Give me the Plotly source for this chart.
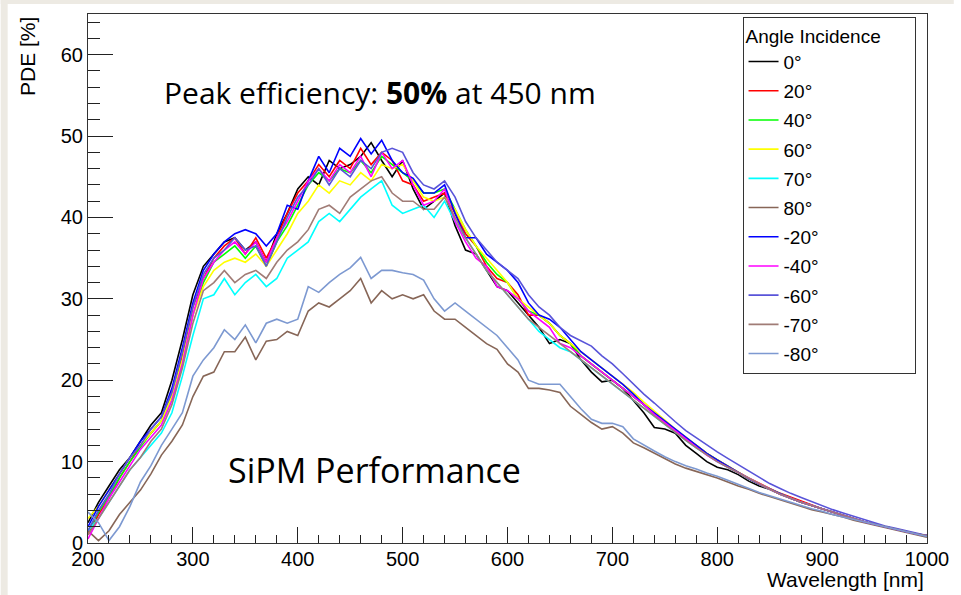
import plotly.graph_objects as go

wavelength = list(range(200, 1001, 10))

pde_0 = [2.5, 5.0, 7.0, 9.0, 10.5, 12.5, 14.5, 16.0, 20.0, 25.0,
         30.5, 34.0, 35.5, 37.0, 37.5, 36.0, 37.0, 34.5, 38.0, 40.5,
         43.5, 45.0, 44.0, 47.0, 46.0, 46.5, 47.5, 49.2, 47.0, 45.0,
         47.0, 43.5, 41.0, 42.0, 43.0, 39.0, 36.0, 35.5, 33.5, 31.5,
         31.0, 29.5, 28.0, 26.5, 24.5, 25.0, 24.5, 22.5, 21.0, 19.8,
         20.0, 19.0, 17.5, 16.0, 14.2, 14.0, 13.5, 12.0, 11.0, 10.0,
         9.3, 9.0, 8.4, 7.6, 7.0, 6.6, 6.0, 5.5, 5.0, 4.6,
         4.2, 3.8, 3.4, 3.0, 2.6, 2.3, 2.0, 1.7, 1.4, 1.1, 0.9]
pde_20 = [1.0, 3.5, 5.5, 8.0, 10.0, 12.0, 13.5, 15.0, 18.5, 23.0,
          29.0, 32.5, 35.0, 36.5, 37.5, 35.5, 37.5, 35.0, 37.5, 40.5,
          43.0, 44.5, 46.5, 45.0, 47.0, 46.0, 48.5, 46.5, 48.0, 47.0,
          44.5, 44.0, 42.0, 42.5, 43.0, 40.5, 38.0, 36.5, 34.0, 32.5,
          32.0, 30.5, 28.0, 28.0, 27.0, 25.5, 24.5, 23.0, 22.0, 21.0,
          20.0, 19.0, 18.0, 17.0, 15.8, 14.8, 13.8, 12.8, 12.0, 11.0,
          10.2, 9.4, 8.7, 8.0, 7.3, 6.7, 6.1, 5.6, 5.1, 4.6,
          4.2, 3.8, 3.4, 3.0, 2.6, 2.3, 2.0, 1.7, 1.4, 1.1, 0.9]
pde_40 = [1.5, 3.8, 5.8, 8.0, 10.0, 11.8, 13.5, 15.0, 18.0, 22.5,
          28.0, 32.0, 34.5, 35.5, 36.5, 35.0, 36.5, 34.0, 37.0, 39.0,
          41.5, 44.0, 45.5, 44.5, 46.0, 45.5, 47.0, 45.5, 47.5, 46.5,
          45.5, 44.5, 43.0, 43.0, 43.5, 41.0, 38.5, 36.5, 34.5, 33.0,
          32.0, 30.0, 28.5, 28.0, 27.0, 25.5, 24.5, 23.0, 22.0, 21.0,
          20.0, 19.0, 18.0, 17.0, 15.8, 14.8, 13.8, 12.9, 12.0, 11.0,
          10.2, 9.4, 8.6, 7.9, 7.2, 6.6, 6.0, 5.5, 5.0, 4.6,
          4.2, 3.8, 3.4, 3.0, 2.6, 2.3, 2.0, 1.7, 1.4, 1.1, 0.9]
pde_60 = [3.0, 4.5, 6.5, 8.5, 10.5, 12.0, 13.5, 15.0, 18.0, 22.5,
          28.0, 31.5, 33.5, 34.5, 35.0, 34.5, 35.5, 34.0, 36.0, 38.0,
          40.5, 42.0, 44.0, 43.0, 44.5, 44.0, 45.5, 44.5, 46.5, 46.0,
          46.5, 44.5, 42.5, 42.0, 42.5, 41.0, 38.5, 36.5, 35.0, 33.5,
          32.0, 30.0, 29.0, 28.0, 27.0, 25.5, 24.5, 23.5, 22.5, 21.5,
          20.5, 19.5, 18.5, 17.3, 16.2, 15.0, 14.0, 13.0, 12.0, 11.0,
          10.2, 9.4, 8.6, 7.9, 7.2, 6.6, 6.0, 5.5, 5.0, 4.6,
          4.2, 3.8, 3.4, 3.0, 2.6, 2.3, 2.0, 1.7, 1.4, 1.1, 0.9]
pde_70 = [1.5, 3.0, 5.0, 7.0, 9.0, 10.5, 12.0, 13.5, 16.0, 20.5,
          25.5, 30.0, 30.5, 32.5, 30.5, 32.0, 33.0, 31.5, 32.5, 35.0,
          36.0, 37.0, 39.5, 40.5, 39.5, 41.0, 42.5, 43.5, 44.5, 41.5,
          40.5, 41.0, 41.5, 40.0, 42.0, 39.5, 37.5, 35.5, 33.5, 32.0,
          30.5, 29.0, 27.5, 26.0, 25.0, 24.0, 23.5, 22.5, 21.5, 20.5,
          19.5, 18.5, 17.5, 16.5, 15.5, 14.5, 13.5, 12.6, 11.7, 10.8,
          10.0, 9.3, 8.6, 7.9, 7.2, 6.6, 6.0, 5.5, 5.0, 4.6,
          4.2, 3.8, 3.4, 3.0, 2.6, 2.3, 2.0, 1.7, 1.4, 1.1, 0.9]
pde_80 = [1.5, 0.3, 1.5, 3.5, 5.0, 6.5, 8.5, 10.8, 12.5, 14.5,
          18.0, 20.5, 21.0, 23.5, 23.5, 25.3, 22.5, 24.8, 25.0, 26.0,
          25.5, 28.5, 29.5, 29.0, 30.0, 31.0, 32.5, 29.5, 31.0, 30.0,
          30.5, 30.0, 30.5, 28.5, 27.5, 27.5, 26.5, 25.5, 24.5, 23.8,
          22.0, 21.0, 19.0, 19.0, 18.8, 18.5, 16.8, 15.8, 14.8, 14.0,
          14.3, 13.5, 12.3, 11.7, 11.0, 10.4, 9.7, 9.2, 8.8, 8.4,
          8.0, 7.5, 7.0, 6.6, 6.1, 5.7, 5.3, 4.9, 4.5, 4.1,
          3.8, 3.5, 3.2, 2.8, 2.5, 2.2, 1.9, 1.6, 1.3, 1.0, 0.7]
pde_m20 = [2.0, 4.5, 6.5, 8.5, 10.5, 12.5, 14.0, 15.5, 19.0, 24.0,
           29.5, 33.5, 35.5, 37.0, 38.0, 38.5, 38.0, 36.5, 38.0, 41.5,
           41.0, 44.5, 47.5, 45.5, 48.5, 47.5, 49.7, 47.8, 49.5, 47.0,
           45.5, 44.8, 43.0, 43.0, 44.0, 40.5, 37.5, 37.5, 35.5, 34.5,
           33.5, 32.0, 29.5, 28.0, 27.5, 26.5, 25.0, 23.5, 22.5, 21.5,
           20.5, 19.5, 18.3, 17.0, 16.0, 15.0, 14.0, 13.0, 12.0, 11.0,
           10.2, 9.4, 8.6, 7.9, 7.2, 6.6, 6.0, 5.5, 5.0, 4.6,
           4.2, 3.8, 3.4, 3.0, 2.6, 2.3, 2.0, 1.7, 1.4, 1.1, 0.9]
pde_m40 = [0.5, 3.0, 5.5, 7.5, 9.5, 11.5, 13.0, 14.5, 17.5, 22.0,
           28.0, 32.5, 34.5, 36.0, 37.0, 35.5, 37.0, 34.5, 37.5, 39.5,
           42.0, 44.5, 46.0, 44.5, 46.5, 45.5, 47.5, 45.0, 48.0, 46.0,
           47.0, 44.0, 41.5, 42.0, 43.5, 39.5, 37.0, 35.0, 34.0, 31.5,
           31.0, 30.0, 28.5, 27.5, 26.5, 24.5, 24.0, 23.0, 22.0, 21.0,
           20.0, 19.0, 18.0, 17.0, 15.8, 14.8, 13.8, 12.8, 11.8, 10.8,
           10.0, 9.3, 8.6, 7.9, 7.2, 6.6, 6.0, 5.5, 5.0, 4.6,
           4.2, 3.8, 3.4, 3.0, 2.6, 2.3, 2.0, 1.7, 1.4, 1.1, 0.9]
pde_m60 = [1.5, 4.0, 6.0, 8.5, 10.5, 12.0, 14.0, 15.5, 18.5, 23.5,
           29.0, 33.0, 35.0, 36.0, 37.5, 36.0, 36.5, 34.0, 37.0, 40.0,
           42.5, 44.0, 46.0, 44.0, 46.0, 45.0, 47.0, 46.0, 48.0, 48.5,
           48.0, 45.5, 44.0, 43.5, 44.5, 42.5, 39.5, 37.5, 36.0, 34.5,
           33.5, 32.5, 30.5, 29.0, 28.0, 26.5, 25.5, 24.8, 24.2, 23.0,
           22.0, 20.8, 19.5, 18.3, 17.2, 16.0, 14.9, 13.8, 12.9, 12.0,
           11.2, 10.4, 9.6, 8.8, 8.0, 7.3, 6.7, 6.1, 5.6, 5.1,
           4.6, 4.1, 3.7, 3.3, 2.9, 2.5, 2.1, 1.8, 1.5, 1.2, 0.9]
pde_m70 = [1.0, 3.0, 5.0, 7.0, 9.0, 10.5, 12.5, 14.0, 17.0, 21.5,
           27.0, 31.0, 32.0, 33.5, 32.0, 33.0, 33.5, 32.5, 34.5, 36.0,
           37.0, 38.5, 41.0, 41.5, 40.5, 42.5, 43.5, 44.5, 45.0, 43.0,
           42.0, 42.0, 41.0, 41.0, 42.5, 40.0, 37.5, 35.5, 33.5, 32.0,
           30.5, 29.0, 27.5, 26.5, 25.5, 24.5, 23.5, 22.5, 21.5, 20.5,
           19.5, 18.5, 17.5, 16.5, 15.5, 14.5, 13.5, 12.6, 11.7, 10.8,
           10.0, 9.3, 8.6, 7.9, 7.2, 6.6, 6.0, 5.5, 5.0, 4.6,
           4.2, 3.8, 3.4, 3.0, 2.6, 2.3, 2.0, 1.7, 1.4, 1.1, 0.9]
pde_m80 = [3.8, 2.5, 0.3, 2.0, 4.5, 7.5, 9.5, 12.0, 14.0, 16.0,
           20.5, 22.5, 24.0, 26.2, 25.0, 26.8, 24.6, 27.0, 27.5, 27.0,
           27.5, 31.5, 30.8, 32.0, 33.0, 33.8, 35.1, 32.5, 33.5, 33.5,
           33.2, 33.0, 32.3, 30.0, 28.5, 29.5, 28.5, 27.5, 26.5, 25.5,
           24.0, 22.5, 20.0, 19.5, 19.5, 19.5, 18.0, 16.5, 15.2, 14.7,
           14.7, 14.3, 12.8, 12.0, 11.3, 10.6, 10.0, 9.5, 9.1, 8.6,
           8.2, 7.7, 7.2, 6.7, 6.2, 5.8, 5.4, 5.0, 4.6, 4.2,
           3.9, 3.5, 3.2, 2.9, 2.6, 2.3, 2.0, 1.7, 1.4, 1.1, 0.8]

angle_labels = ["0°", "20°", "40°", "60°", "70°", "80°", "-20°", "-40°", "-60°", "-70°", "-80°"]
series = [pde_0, pde_20, pde_40, pde_60, pde_70, pde_80, pde_m20, pde_m40, pde_m60, pde_m70, pde_m80]
colors = ["#000000", "#ff0000", "#00ff00", "#ffff00", "#00ffff", "#876657",
          "#0000ff", "#ff00ff", "#5954d9", "#a07c76", "#7d99d1"]

fig = go.Figure()
for i, (lab, vals, col) in enumerate(zip(angle_labels, series, colors)):
    fig.add_trace(go.Scatter(x=wavelength, y=vals, mode="lines", name=lab,
                             line=dict(color=col, width=1.6),
                             legendgroup=f"g{i}"))

W, H = 961, 595
L, R, T, B = 88, 27, 14, 52
pw, ph = W - L - R, H - T - B

def px_x(p):
    return (p - L) / pw

def px_y(p):
    return (H - B - p) / ph

FONT = "Liberation Sans, Arial, sans-serif"
tickfont = dict(family=FONT, size=20, color="black")

fig.update_layout(
    width=W, height=H,
    margin=dict(l=L, r=R, t=T, b=B),
    paper_bgcolor="white", plot_bgcolor="white",
    showlegend=True,
    legend=dict(
        x=px_x(748), y=px_y(17), xanchor="left", yanchor="top",
        bgcolor="white", bordercolor="#333333", borderwidth=1,
        font=dict(family=FONT, size=19, color="black"),
        title=dict(text="Angle Incidence" + "\u00a0" * 6,
                   font=dict(family=FONT, size=19, color="black")),
        tracegroupgap=1.5, itemwidth=30,
    ),
    xaxis=dict(range=[200, 1000], dtick=100, tick0=200, ticks="inside", ticklen=16,
               tickcolor="#222", showline=True, linecolor="#333", linewidth=1, mirror=True,
               showgrid=False, zeroline=False, tickfont=tickfont, ticklabelstandoff=-2,
               minor=dict(ticks="inside", ticklen=8, dtick=20, tickcolor="#222", showgrid=False)),
    yaxis=dict(range=[0, 65], dtick=10, tick0=0, ticks="inside", ticklen=25,
               tickcolor="#222", showline=True, linecolor="#333", linewidth=1, mirror=True,
               showgrid=False, zeroline=False, tickfont=tickfont,
               minor=dict(ticks="inside", ticklen=12, dtick=2, tickcolor="#222", showgrid=False)),
    shapes=[
        dict(type="rect", xref="paper", yref="paper", x0=px_x(0), x1=px_x(7), y0=px_y(H), y1=px_y(0),
             fillcolor="#edeae3", line=dict(width=0), layer="above"),
        dict(type="rect", xref="paper", yref="paper", x0=px_x(0), x1=px_x(W), y0=px_y(4), y1=px_y(0),
             fillcolor="#edeae3", line=dict(width=0), layer="above"),
    ],
    annotations=[
        dict(text="PDE [%]", textangle=-90, xref="paper", yref="paper", x=px_x(27), y=px_y(15),
             xanchor="center", yanchor="top", showarrow=False,
             font=dict(family=FONT, size=21, color="black")),
        dict(text="Wavelength [nm]", xref="paper", yref="paper", x=px_x(933), y=px_y(579),
             xanchor="right", yanchor="middle", showarrow=False,
             font=dict(family=FONT, size=21, color="black")),
        dict(text="Peak efficiency: <b>50%</b> at 450 nm", xref="paper", yref="paper",
             x=px_x(382), y=px_y(93), xanchor="center", yanchor="middle", showarrow=False,
             font=dict(family="Open Sans, sans-serif", size=30, color="black")),
        dict(text="SiPM Performance", xref="paper", yref="paper",
             x=px_x(377), y=px_y(470), xanchor="center", yanchor="middle", showarrow=False,
             font=dict(family="Open Sans, sans-serif", size=34, color="black")),
    ],
)

fig.write_html("out.html")
